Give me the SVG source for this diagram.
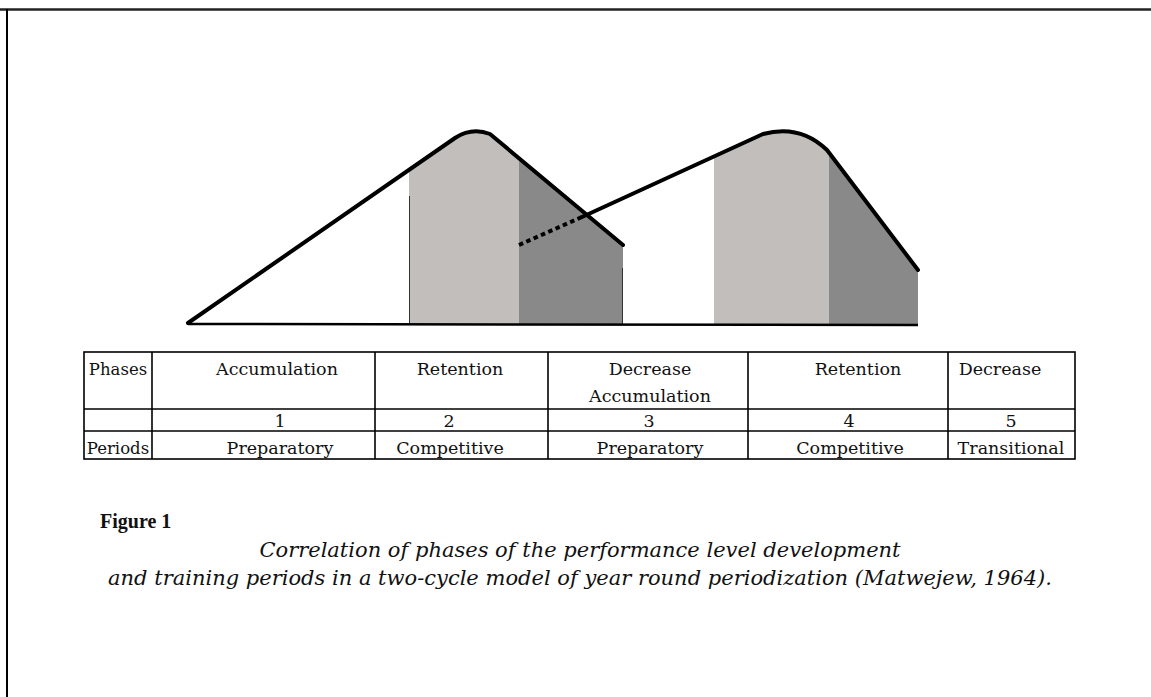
<svg xmlns="http://www.w3.org/2000/svg" width="1151" height="697" viewBox="0 0 1151 697">
<style>
.t{font-family:"DejaVu Serif","Liberation Serif",serif;font-size:17.5px;fill:#111;text-anchor:middle}
.s{font-size:16.5px}
.cap{font-family:"DejaVu Serif","Liberation Serif",serif;font-size:21px;fill:#111;font-style:italic;text-anchor:middle}
.fig{font-family:"Liberation Serif","DejaVu Serif",serif;font-size:20px;fill:#111;font-weight:bold}
.thick{fill:none;stroke:#000;stroke-width:4;stroke-linecap:round;stroke-linejoin:round}
.grid{stroke:#000;stroke-width:1.6;fill:none}
.light{fill:#c1bebc}
.dark{fill:#898989}
</style>
<rect width="1151" height="697" fill="#fff"/>
<g id="frame">
<line x1="0" y1="9.5" x2="1151" y2="9.5" stroke="#222" stroke-width="2.5"/>
<line x1="7" y1="9" x2="7" y2="697" stroke="#000" stroke-width="2"/>
</g>
<g id="chart">
<polygon class="light" points="409,171 455,138 470,132 488,133 519,160 519,324 409,324"/>
<polygon class="dark" points="519,160 623,245 623,324 519,324"/>
<polygon class="light" points="714,156 763,134 780,131 800,134 817,142 829,153 829,325 714,325"/>
<polygon class="dark" points="829,153 918,270 918,325 829,325"/>
<line x1="409.5" y1="196" x2="409.5" y2="324" stroke="#333" stroke-width="1"/>
<line x1="622.5" y1="268" x2="622.5" y2="324" stroke="#333" stroke-width="1"/>
<line x1="188" y1="324" x2="918" y2="325" stroke="#000" stroke-width="2.5"/>
<path class="thick" d="M188,323 L455,138 Q472,127 490,134 L623,245"/>
<path class="thick" d="M582,217 L763,134 Q800,124 827,150 L918,270"/>
<line x1="519" y1="245" x2="582" y2="217" stroke="#000" stroke-width="4" stroke-dasharray="4.5,3.5"/>
</g>
<g id="table">
<rect class="grid" x="84" y="352" width="991" height="107"/>
<line class="grid" x1="84" y1="409" x2="1075" y2="409"/>
<line class="grid" x1="84" y1="431" x2="1075" y2="431"/>
<line class="grid" x1="152" y1="352" x2="152" y2="459"/>
<line class="grid" x1="375" y1="352" x2="375" y2="459"/>
<line class="grid" x1="548" y1="352" x2="548" y2="459"/>
<line class="grid" x1="748" y1="352" x2="748" y2="459"/>
<line class="grid" x1="948" y1="352" x2="948" y2="459"/>
<text class="t s" x="118" y="375">Phases</text>
<text class="t" x="277" y="375">Accumulation</text>
<text class="t" x="460" y="375">Retention</text>
<text class="t" x="650" y="375">Decrease</text>
<text class="t" x="650" y="402">Accumulation</text>
<text class="t" x="858" y="375">Retention</text>
<text class="t" x="1000" y="375">Decrease</text>
<text class="t" x="280" y="427">1</text>
<text class="t" x="449" y="427">2</text>
<text class="t" x="649" y="427">3</text>
<text class="t" x="849" y="427">4</text>
<text class="t" x="1011" y="427">5</text>
<text class="t s" x="118" y="454">Periods</text>
<text class="t" x="280" y="454">Preparatory</text>
<text class="t" x="450" y="454">Competitive</text>
<text class="t" x="650" y="454">Preparatory</text>
<text class="t" x="850" y="454">Competitive</text>
<text class="t" x="1011" y="454">Transitional</text>
</g>
<g id="caption">
<text class="fig" x="100" y="528">Figure  1</text>
<text class="cap" x="580" y="557">Correlation of phases of the performance level development</text>
<text class="cap" x="580" y="585">and training periods in a two-cycle model of year round periodization (Matwejew, 1964).</text>
</g>
</svg>
